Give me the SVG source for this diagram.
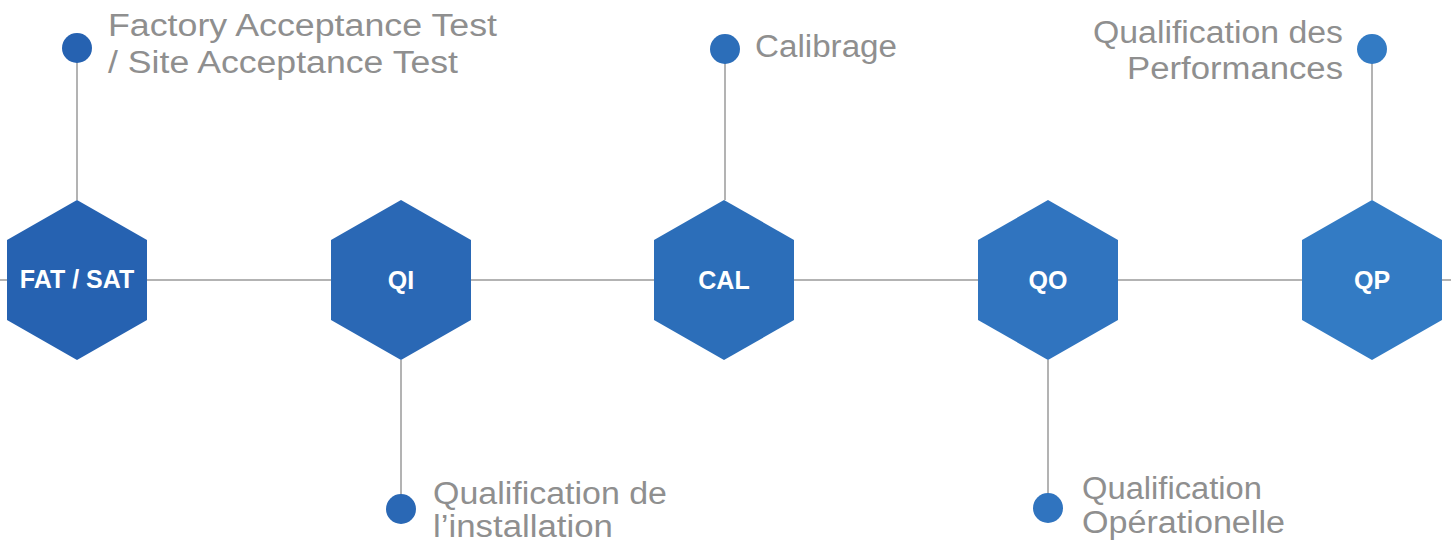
<svg xmlns="http://www.w3.org/2000/svg" width="1451" height="544" viewBox="0 0 1451 544">
<style>
.conn{stroke:#b3b3b3;stroke-width:2;fill:none}
.lbl{font-family:"Liberation Sans",Arial,sans-serif;font-size:31px;fill:#8f8f8f}
.hl{font-family:"Liberation Sans",Arial,sans-serif;font-size:25px;font-weight:bold;fill:#ffffff;text-anchor:middle}
</style>
<defs>
<polygon id="hex" points="0,-80 70,-40 70,40 0,80 -70,40 -70,-40"/>
</defs>
<rect width="1451" height="544" fill="#ffffff"/>
<g id="connectors">
<line class="conn" x1="0" y1="280" x2="1451" y2="280"/>
<line class="conn" x1="77" y1="48" x2="77" y2="200"/>
<line class="conn" x1="401" y1="360" x2="401" y2="509"/>
<line class="conn" x1="725" y1="49" x2="725" y2="200"/>
<line class="conn" x1="1048" y1="360" x2="1048" y2="508"/>
<line class="conn" x1="1372" y1="49" x2="1372" y2="200"/>
</g>
<g id="node-fat">
<use href="#hex" x="77" y="280" fill="#2662b1"/>
<text class="hl" x="77" y="288">FAT / SAT</text>
<circle cx="77" cy="48" r="15" fill="#2662b1"/>
<text class="lbl" x="108" y="36" textLength="389" lengthAdjust="spacingAndGlyphs">Factory Acceptance Test</text>
<text class="lbl" x="108" y="73" textLength="350" lengthAdjust="spacingAndGlyphs">/ Site Acceptance Test</text>
</g>
<g id="node-qi">
<use href="#hex" x="401" y="280" fill="#2a68b5"/>
<text class="hl" x="401" y="289">QI</text>
<circle cx="401" cy="509" r="15" fill="#2a68b5"/>
<text class="lbl" x="433" y="504" textLength="234" lengthAdjust="spacingAndGlyphs">Qualification de</text>
<text class="lbl" x="433" y="537" textLength="180" lengthAdjust="spacingAndGlyphs">l’installation</text>
</g>
<g id="node-cal">
<use href="#hex" x="724" y="280" fill="#2c6eb9"/>
<text class="hl" x="724" y="289">CAL</text>
<circle cx="725" cy="49" r="15" fill="#2c6eb9"/>
<text class="lbl" x="755" y="57" textLength="142" lengthAdjust="spacingAndGlyphs">Calibrage</text>
</g>
<g id="node-qo">
<use href="#hex" x="1048" y="280" fill="#3074bf"/>
<text class="hl" x="1048" y="289">QO</text>
<circle cx="1048" cy="508" r="15" fill="#3074bf"/>
<text class="lbl" x="1082" y="499" textLength="180" lengthAdjust="spacingAndGlyphs">Qualification</text>
<text class="lbl" x="1082" y="533" textLength="203" lengthAdjust="spacingAndGlyphs">Opérationelle</text>
</g>
<g id="node-qp">
<use href="#hex" x="1372" y="280" fill="#337bc4"/>
<text class="hl" x="1372" y="289">QP</text>
<circle cx="1372" cy="49" r="15" fill="#337bc4"/>
<text class="lbl" x="1093" y="43" textLength="250" lengthAdjust="spacingAndGlyphs">Qualification des</text>
<text class="lbl" x="1127" y="79" textLength="216" lengthAdjust="spacingAndGlyphs">Performances</text>
</g>
</svg>
